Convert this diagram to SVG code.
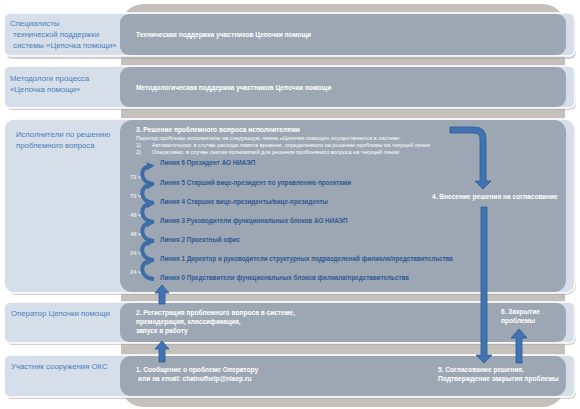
<svg xmlns="http://www.w3.org/2000/svg" width="580" height="409" viewBox="0 0 580 409">
<defs>
<style>
.bg{fill:#c4c1bd}
.shadow{fill:#a9a9a9;opacity:.55}
.row{fill:#d5dee9;stroke:#ffffff;stroke-width:1.5}
.inner{fill:#9ca7b3}
.lab{font-family:"Liberation Sans",Arial,sans-serif;font-size:7.8px;fill:#4a7ebb}
.wt{font-family:"Liberation Sans",Arial,sans-serif;font-size:6.6px;fill:#ffffff;font-weight:bold}
.sm{font-family:"Liberation Sans",Arial,sans-serif;font-size:5.5px;fill:#ffffff}
.ln{font-family:"Liberation Sans",Arial,sans-serif;font-size:6.3px;fill:#2f5a93;font-weight:bold}
.hr{font-family:"Liberation Sans",Arial,sans-serif;font-size:5.8px;fill:#e4e7eb;font-weight:bold}
.arr{fill:#4173b3;stroke:#2c5a92;stroke-width:0.8}
.wave{fill:none;stroke:#3d6ca7;stroke-width:4;marker-end:url(#ah)}
</style>
<marker id="ah" viewBox="0 0 10 10" refX="4" refY="5" markerWidth="2" markerHeight="2" orient="auto">
<path d="M0 0 L10 5 L0 10 Z" fill="#3d6ca7"/>
</marker>
</defs>
<rect x="0" y="0" width="580" height="409" fill="#ffffff"/>
<rect class="bg" x="121" y="4" width="444" height="403" rx="22"/>

<g id="row1">
<rect class="shadow" x="6" y="15" width="570" height="44" rx="6"/>
<rect class="row" x="4" y="13" width="571" height="43" rx="6"/>
<rect class="inner" x="120" y="14" width="446" height="41" rx="9"/>
<text class="lab" x="10" y="26">Специалисты</text>
<text class="lab" x="13" y="37"> технической поддержки</text>
<text class="lab" x="13" y="48"> системы «Цепочка помощи»</text>
<text class="wt" x="136" y="37">Техническая поддержка участников Цепочки помощи</text>
</g>

<g id="row2">
<rect class="shadow" x="6" y="68" width="570" height="42" rx="6"/>
<rect class="row" x="4" y="66" width="571" height="42" rx="6"/>
<rect class="inner" x="120" y="67" width="446" height="40" rx="9"/>
<text class="lab" x="10" y="81">Методологи процесса</text>
<text class="lab" x="10" y="92">«Цепочка помощи»</text>
<text class="wt" x="136" y="90">Методологическая поддержка участников Цепочки помощи</text>
</g>

<g id="row3">
<rect class="shadow" x="6" y="121" width="570" height="174" rx="10"/>
<rect class="row" x="4" y="119" width="571" height="174" rx="10"/>
<rect class="inner" x="120" y="120" width="446" height="172" rx="12"/>
<text class="lab" x="16" y="137">Исполнители по решению</text>
<text class="lab" x="16" y="148">проблемного вопроса</text>
<text class="wt" x="136" y="132">3. Решение проблемного вопроса исполнителями</text>
<text class="sm" x="136" y="140">Переход проблемы исполнителю на следующую линию «Цепочки помощи» осуществляется в системе:</text>
<text class="sm" x="136" y="147">1)<tspan x="152">Автоматически: в случае расхода лимита времени, определенного на решение проблемы на текущей линии</tspan></text>
<text class="sm" x="136" y="154">2)<tspan x="152">Оперативно: в случае снятия полномочий для решения проблемного вопроса на текущей линии</tspan></text>
</g>

<g id="lines">
<text class="ln" x="160" y="165">Линия 6 Президент АО НИАЭП</text>
<text class="ln" x="160" y="185">Линия 5 Старший вице-президент по управлению проектами</text>
<text class="ln" x="160" y="204">Линия 4 Старшие вице-президенты/вице-президенты</text>
<text class="ln" x="160" y="223">Линия 3 Руководители функциональных блоков АО НИАЭП</text>
<text class="ln" x="160" y="242">Линия 2 Проектный офис</text>
<text class="ln" x="160" y="261">Линия 1 Директор и руководители структурных подразделений филиала/представительства</text>
<text class="ln" x="160" y="280">Линия 0 Представители функциональных блоков филиала/представительства</text>
<text class="hr" x="130" y="179">72 ч</text>
<text class="hr" x="130" y="198">72 ч</text>
<text class="hr" x="130" y="217">48 ч</text>
<text class="hr" x="130" y="236">48 ч</text>
<text class="hr" x="130" y="255">24 ч</text>
<text class="hr" x="130" y="274">24 ч</text>
</g>

<g id="row4">
<rect class="shadow" x="6" y="304" width="570" height="41" rx="6"/>
<rect class="row" x="4" y="302" width="571" height="41" rx="6"/>
<rect class="inner" x="120" y="303" width="446" height="39" rx="9"/>
<text class="lab" x="11" y="316">Оператор Цепочки помощи</text>
<text class="wt" x="136" y="315">2. Регистрация проблемного вопроса в системе,</text>
<text class="wt" x="136" y="324">премодерация, классификация,</text>
<text class="wt" x="136" y="333">запуск в работу</text>
<text class="wt" x="501" y="314">6. Закрытие</text>
<text class="wt" x="501" y="323">проблемы</text>
</g>

<g id="row5">
<rect class="shadow" x="6" y="357" width="570" height="42" rx="6"/>
<rect class="row" x="4" y="355" width="571" height="42" rx="6"/>
<rect class="inner" x="120" y="356" width="446" height="40" rx="11"/>
<text class="lab" x="11" y="369">Участник сооружения ОКС</text>
<text class="wt" x="136" y="372">1. Сообщение о проблеме Оператору</text>
<text class="wt" x="138" y="381"> или на email: chainofhelp@niaep.ru</text>
<text class="wt" x="438" y="372">5. Согласование решения.</text>
<text class="wt" x="438" y="381">Подтверждение закрытия проблемы</text>
</g>

<g id="step4">
<text class="wt" x="432" y="199">4. Внесение решения на согласование</text>
</g>

<g id="connectors">
<path class="wave" d="M154 184 C139 183 139 167 150 166"/>
<path class="wave" d="M154 203 C139 202 139 186 150 185"/>
<path class="wave" d="M154 222 C139 221 139 205 150 204"/>
<path class="wave" d="M154 241 C139 240 139 224 150 223"/>
<path class="wave" d="M154 260 C139 259 139 243 150 242"/>
<path class="wave" d="M154 279 C139 278 139 262 150 261"/>
<path class="arr" d="M159 304 L159 293 L155 293 L162 285 L169 293 L165 293 L165 304 Z"/>
<path class="arr" d="M159 362 L159 349 L155 349 L162 341 L169 349 L165 349 L165 362 Z"/>
<path class="arr" d="M450 127 L474 127 Q486 127 486 139 L486 181 L491 181 L483 189 L475 181 L480 181 L480 139 Q480 133 474 133 L450 133 Z"/>
<path class="arr" d="M481 207 L487 207 L487 355 L492 355 L484 363 L476 355 L481 355 Z"/>
<path class="arr" d="M516 363 L516 338 L511 338 L519 329 L527 338 L522 338 L522 363 Z"/>
</g>
</svg>
